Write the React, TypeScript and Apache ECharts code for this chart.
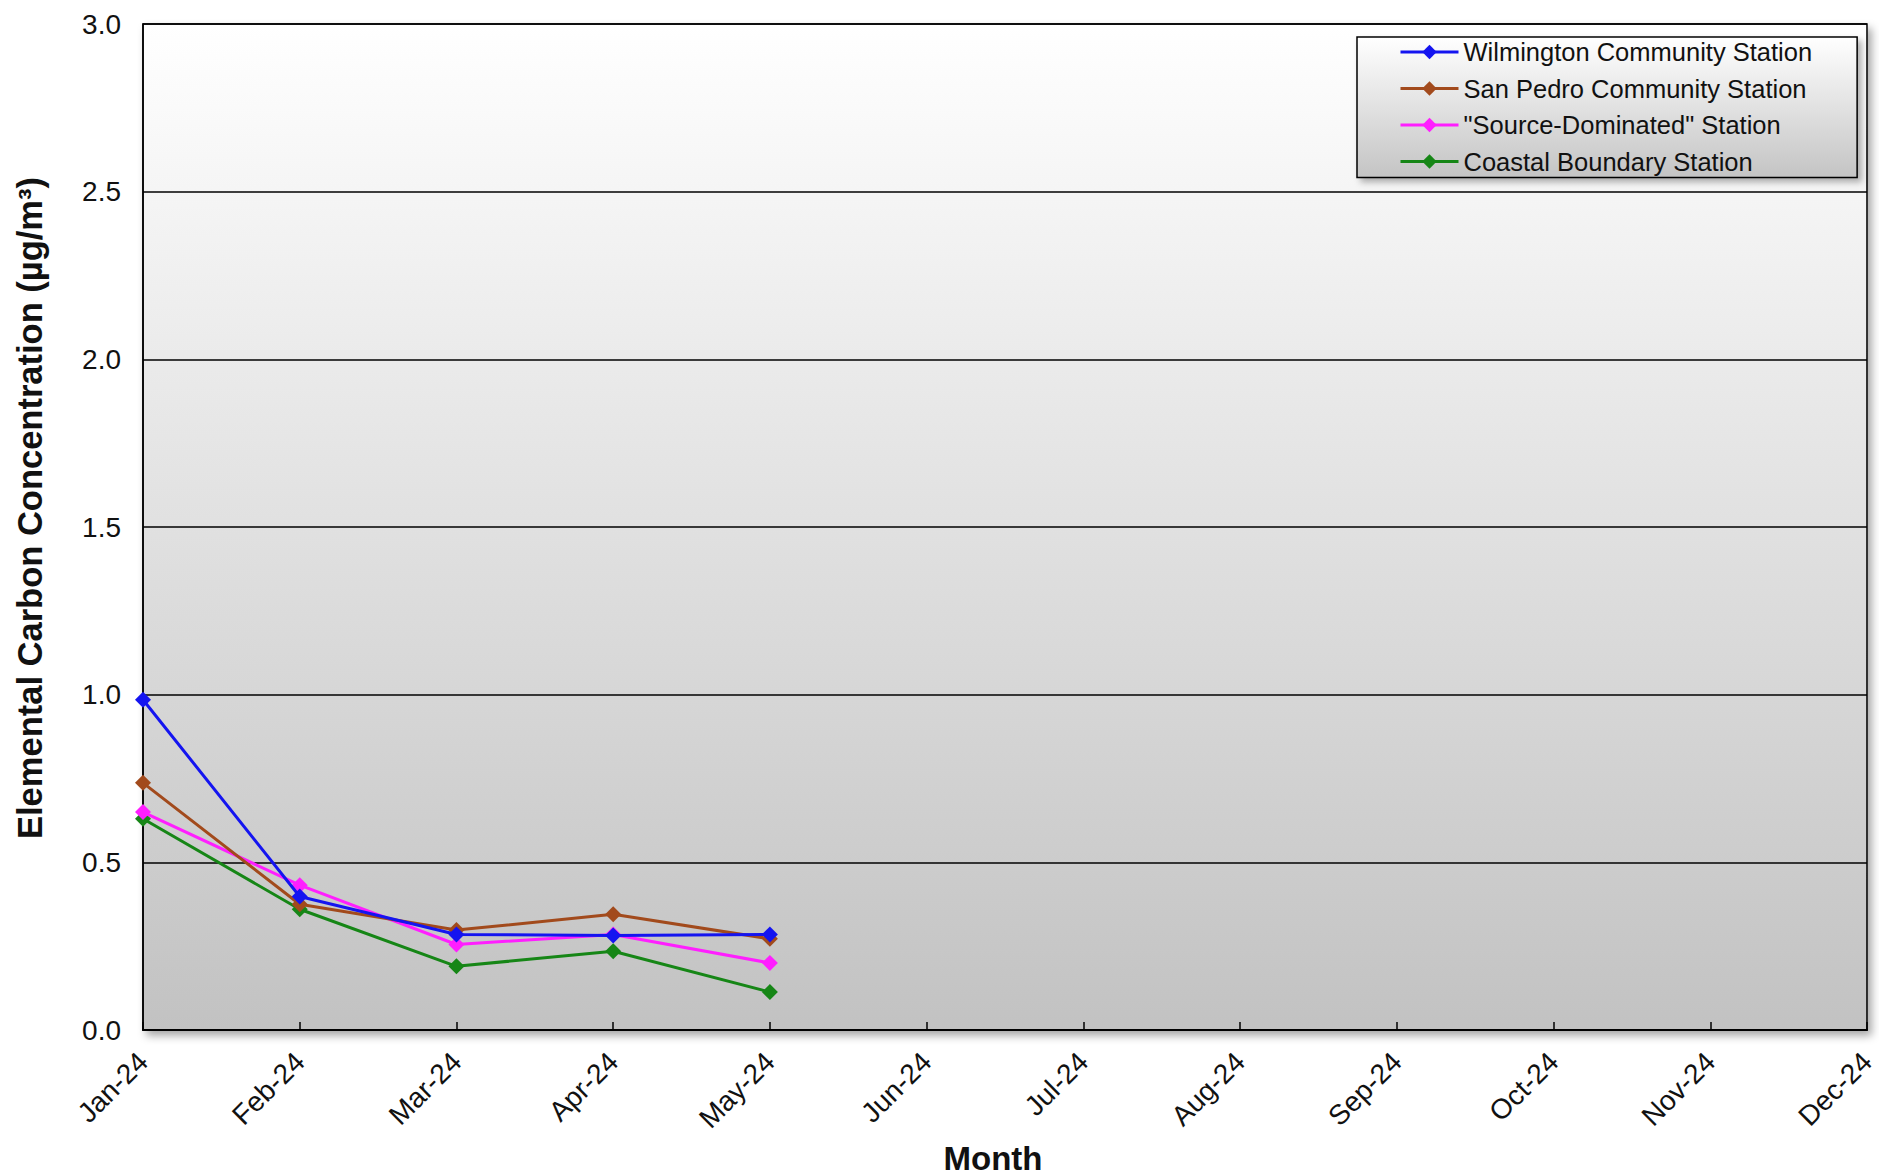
import React, { useEffect, useRef } from "react";
import * as echarts from "echarts";

const months = ["Jan-24", "Feb-24", "Mar-24", "Apr-24", "May-24", "Jun-24", "Jul-24", "Aug-24", "Sep-24", "Oct-24", "Nov-24", "Dec-24"];
const yTicks = [0, 0.5, 1.0, 1.5, 2.0, 2.5, 3.0];

const seriesNames = [
  "Wilmington Community Station",
  "San Pedro Community Station",
  "\"Source-Dominated\" Station",
  "Coastal Boundary Station",
];
const wilmington = [0.985, 0.398, 0.285, 0.282, 0.285];
const sanPedro = [0.737, 0.375, 0.298, 0.345, 0.272];
const sourceDominated = [0.65, 0.432, 0.255, 0.285, 0.2];
const coastal = [0.63, 0.36, 0.19, 0.235, 0.113];
const seriesColors = ["#1414f0", "#a24a1c", "#ff1eff", "#168616"];

const FONT = "'Liberation Sans', Arial, sans-serif";

export default function App() {
  const ref = useRef<HTMLDivElement>(null);
  useEffect(() => {
    if (!ref.current) return;
    const chart = echarts.init(ref.current, null, { renderer: "svg" });
    const data = [wilmington, sanPedro, sourceDominated, coastal];
    const option: any = {
      animation: false,
      backgroundColor: "#ffffff",
      textStyle: { fontFamily: FONT },
      grid: {
        left: 143,
        right: 10,
        top: 24,
        bottom: 146,
        show: true,
        borderColor: "#000",
        borderWidth: 1.5,
        backgroundColor: new echarts.graphic.LinearGradient(0, 0, 0, 1, [
          { offset: 0, color: "#ffffff" },
          { offset: 1, color: "#c2c2c2" },
        ]),
        shadowColor: "rgba(0,0,0,0.35)",
        shadowBlur: 8,
        shadowOffsetX: 4,
        shadowOffsetY: 5,
      },
      legend: {
        orient: "vertical",
        left: 1357,
        top: 37,
        padding: [2, 45, 3, 42],
        itemGap: 10.5,
        itemWidth: 58,
        itemHeight: 18,
        lineStyle: { width: 3 },
        backgroundColor: new echarts.graphic.LinearGradient(0, 0, 0, 1, [
          { offset: 0, color: "#ffffff" },
          { offset: 1, color: "#c4c4c4" },
        ]),
        borderColor: "#000",
        borderWidth: 1.5,
        shadowColor: "rgba(0,0,0,0.3)",
        shadowBlur: 6,
        shadowOffsetX: 4,
        shadowOffsetY: 4,
        textStyle: { fontFamily: FONT, fontSize: 25.5, color: "#111", lineHeight: 26 },
        data: seriesNames,
      },
      xAxis: {
        type: "category",
        data: months,
        boundaryGap: false,
        axisLine: { show: true, lineStyle: { color: "#000", width: 2 } },
        axisTick: { show: true, inside: true, length: 8, lineStyle: { color: "#000", width: 1.5 } },
        axisLabel: {
          interval: 0,
          rotate: 45,
          margin: 27,
          fontFamily: FONT,
          fontSize: 28,
          color: "#111",
        },
        splitLine: { show: false },
      },
      yAxis: {
        type: "value",
        min: 0,
        max: 3,
        interval: 0.5,
        axisLine: { show: true, lineStyle: { color: "#000", width: 1.5 } },
        axisTick: { show: false },
        axisLabel: {
          margin: 22,
          fontFamily: FONT,
          fontSize: 28,
          color: "#111",
          formatter: (v: number) => (yTicks.includes(v) ? v.toFixed(1) : ""),
        },
        splitLine: { show: true, lineStyle: { color: "#000", width: 1.5 } },
      },
      series: seriesNames.map((name, i) => ({
        name,
        type: "line",
        data: data[i],
        symbol: "diamond",
        symbolSize: 16,
        clip: false,
        itemStyle: { color: seriesColors[i] },
        lineStyle: { color: seriesColors[i], width: 3 },
        z: 10 - i,
      })),
      graphic: [
        {
          type: "text",
          x: 993,
          y: 1158,
          style: {
            text: "Month",
            fontFamily: FONT,
            fontSize: 33,
            fontWeight: "bold",
            fill: "#111",
            align: "center",
            verticalAlign: "middle",
          },
        },
        {
          type: "text",
          x: 30,
          y: 508,
          rotation: Math.PI / 2,
          style: {
            text: "Elemental Carbon Concentration (µg/m³)",
            fontFamily: FONT,
            fontSize: 34.5,
            fontWeight: "bold",
            fill: "#111",
            align: "center",
            verticalAlign: "middle",
          },
        },
      ],
    };
    chart.setOption(option);
    return () => chart.dispose();
  }, []);
  return (
    <div
      ref={ref}
      style={{ position: "absolute", left: 0, top: 0, width: 1879, height: 1176 }}
    />
  );
}
